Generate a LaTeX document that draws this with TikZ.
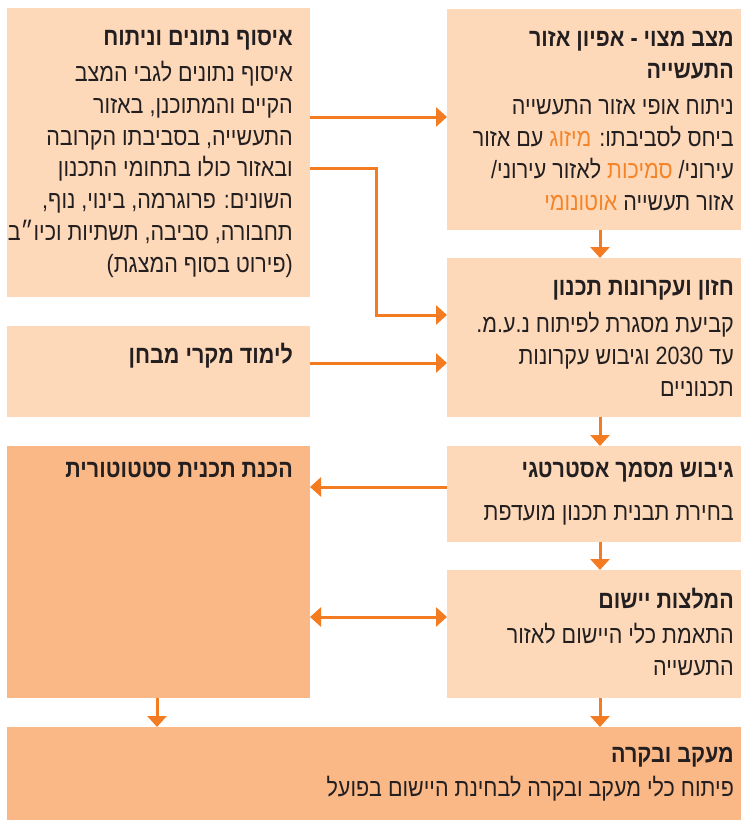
\documentclass[tikz,border=0pt]{standalone}
\usepackage{fontspec}
\usepackage{xcolor}
\usetikzlibrary{arrows.meta, calc, positioning}
\TeXXeTstate=1
\newfontfamily\hebfont[Script=Hebrew,FakeStretch=0.86]{Liberation Sans}
\newfontfamily\hebhl[Script=Hebrew,FakeStretch=0.86,Color=F58428]{Liberation Sans}
\definecolor{pesca}{RGB}{253,217,186}
\definecolor{salmone}{RGB}{250,184,135}
\definecolor{arancio}{RGB}{243,123,33}
\definecolor{testo}{RGB}{35,31,32}
\newcommand{\rl}[1]{\beginR #1\endR}
\newcommand{\hl}[1]{{\hebhl #1}}

\begin{document}
\begin{tikzpicture}[x=1pt, y=-1pt,
    box/.style = {fill=pesca, inner sep=0pt, outer sep=0pt, anchor=north west},
    txt/.style = {font=\hebfont\fontsize{25}{31.7}\selectfont, text=testo, align=right, inner sep=0pt, anchor=base east},
    flow/.style = {draw=arancio, line width=3pt, -{Triangle[width=19pt,length=11pt]}},
    both/.style = {draw=arancio, line width=3pt, {Triangle[width=19pt,length=11pt]}-{Triangle[width=19pt,length=11pt]}}]
    % Parametri
    \pgfmathsetmacro{\xfreccia}{600}
    \pgfmathsetmacro{\xsx}{157}
    \useasboundingbox (0,0) rectangle (741,820);
    % Colonna destra
    \node[box, minimum width=294pt, minimum height=221pt] (stato) at (447,9) {};
    \node[box, minimum width=294pt, minimum height=159pt] (visione) at (447,258) {};
    \node[box, minimum width=294pt, minimum height=96pt] (strategia) at (447,446) {};
    \node[box, minimum width=294pt, minimum height=128pt] (attuazione) at (447,570) {};
    % Colonna sinistra
    \node[box, minimum width=303pt, minimum height=289pt] (dati) at (7,8) {};
    \node[box, minimum width=303pt, minimum height=91pt] (casi) at (7,326) {};
    \node[box, fill=salmone, minimum width=303pt, minimum height=252pt] (statutaria) at (7,446) {};
    % In basso
    \node[box, fill=salmone, minimum width=734pt, minimum height=93pt] (controllo) at (7,727) {};
    % Testi (ancorati all'ultima riga)
    \node[txt] (statoT) at ($(stato.north east)+(-7,201)$)
      {\textbf{\rl{מצב מצוי - אפיון אזור}}\\
       \textbf{\rl{התעשייה}}\\[5pt]
       \rl{ניתוח אופי אזור התעשייה}\\
       \rl{ביחס לסביבתו: \hl{מיזוג} עם אזור}\\
       \rl{עירוני/ \hl{סמיכות} לאזור עירוני/}\\
       \rl{אזור תעשייה \hl{אוטונומי}}};
    \node[txt] (visioneT) at ($(visione.north east)+(-7,138)$)
      {\textbf{\rl{חזון ועקרונות תכנון}}\\[5pt]
       \rl{קביעת מסגרת לפיתוח נ.ע.מ.}\\
       \rl{עד \beginL2030\endL{} וגיבוש עקרונות}\\
       \rl{תכנוניים}};
    \node[txt] (strategiaT) at ($(strategia.north east)+(-7,74)$)
      {\textbf{\rl{גיבוש מסמך אסטרטגי}}\\[11pt]
       \rl{בחירת תבנית תכנון מועדפת}};
    \node[txt] (attuazioneT) at ($(attuazione.north east)+(-7,105)$)
      {\textbf{\rl{המלצות יישום}}\\[3pt]
       \rl{התאמת כלי היישום לאזור}\\
       \rl{התעשייה}};
    \node[txt] (datiT) at ($(dati.north east)+(-17,264)$)
      {\textbf{\rl{איסוף נתונים וניתוח}}\\[5pt]
       \rl{איסוף נתונים לגבי המצב}\\
       \rl{הקיים והמתוכנן, באזור}\\
       \rl{התעשייה, בסביבתו הקרובה}\\
       \rl{ובאזור כולו בתחומי התכנון}\\
       \rl{השונים: פרוגרמה, בינוי, נוף,}\\
       \rl{תחבורה, סביבה, תשתיות וכיו״ב}\\
       \rl{(פירוט בסוף המצגת)}};
    \node[txt] (casiT) at ($(casi.north east)+(-17,37)$)
      {\textbf{\rl{לימוד מקרי מבחן}}};
    \node[txt] (statutariaT) at ($(statutaria.north east)+(-17,31)$)
      {\textbf{\rl{הכנת תכנית סטטוטורית}}};
    \node[txt] (controlloT) at ($(controllo.north east)+(-7,69)$)
      {\textbf{\rl{מעקב ובקרה}}\\[2pt]
       \rl{פיתוח כלי מעקב ובקרה לבחינת היישום בפועל}};
    % Frecce
    \draw[flow] (stato.south -| \xfreccia,0) -- (visione.north -| \xfreccia,0);
    \draw[flow] (visione.south -| \xfreccia,0) -- (strategia.north -| \xfreccia,0);
    \draw[flow] (strategia.south -| \xfreccia,0) -- (attuazione.north -| \xfreccia,0);
    \draw[flow] (attuazione.south -| \xfreccia,0) -- (controllo.north -| \xfreccia,0);
    \draw[flow] (statutaria.south -| \xsx,0) -- (controllo.north -| \xsx,0);
    \draw[flow] (dati.east |- 0,117) -- (stato.west |- 0,117);
    \draw[flow] (dati.east |- 0,168) -- ++(66,0) |- (visione.west |- 0,315);
    \draw[flow] (casi.east |- 0,363) -- (visione.west |- 0,363);
    \draw[flow] (strategia.west |- 0,487) -- (statutaria.east |- 0,487);
    \draw[both] (statutaria.east |- 0,617) -- (attuazione.west |- 0,617);
\end{tikzpicture}
\end{document}
